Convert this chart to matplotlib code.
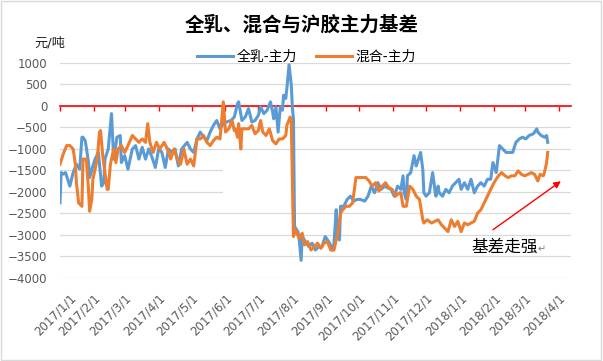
import matplotlib
matplotlib.use("Agg")
import matplotlib.pyplot as plt
import matplotlib.dates as mdates
from matplotlib.ticker import FuncFormatter, MultipleLocator
from matplotlib.transforms import ScaledTranslation
from matplotlib.patches import Rectangle
import pandas as pd

plt.rcParams['font.family'] = ['DejaVu Sans', 'Noto Sans CJK SC']

title = "全乳、混合与沪胶主力基差"
unit_label = "元/吨"
series_names = ["全乳-主力", "混合-主力"]
note_text = "基差走强"

blue_dates = [
    "2017-01-01", "2017-01-02", "2017-01-04", "2017-01-06", "2017-01-07", "2017-01-10", "2017-01-13",
    "2017-01-16", "2017-01-19", "2017-01-21", "2017-01-22", "2017-01-24", "2017-01-25", "2017-01-27",
    "2017-01-28", "2017-01-31", "2017-02-02", "2017-02-05", "2017-02-08", "2017-02-10", "2017-02-11",
    "2017-02-14", "2017-02-17", "2017-02-19", "2017-02-22", "2017-02-25", "2017-02-26", "2017-03-01",
    "2017-03-04", "2017-03-08", "2017-03-11", "2017-03-14", "2017-03-17", "2017-03-20", "2017-03-23",
    "2017-03-26", "2017-03-29", "2017-04-01", "2017-04-04", "2017-04-07", "2017-04-10", "2017-04-13",
    "2017-04-16", "2017-04-19", "2017-04-22", "2017-04-27", "2017-04-30", "2017-05-03", "2017-05-06",
    "2017-05-09", "2017-05-12", "2017-05-15", "2017-05-18", "2017-05-21", "2017-05-24", "2017-05-27",
    "2017-05-30", "2017-06-02", "2017-06-06", "2017-06-09", "2017-06-12", "2017-06-13", "2017-06-16",
    "2017-06-19", "2017-06-22", "2017-06-25", "2017-06-28", "2017-07-01", "2017-07-03", "2017-07-06",
    "2017-07-09", "2017-07-12", "2017-07-14", "2017-07-15", "2017-07-17", "2017-07-19", "2017-07-21",
    "2017-07-23", "2017-07-24", "2017-07-26", "2017-07-27", "2017-07-29", "2017-07-31", "2017-08-01",
    "2017-08-02", "2017-08-03", "2017-08-06", "2017-08-07", "2017-08-09", "2017-08-10", "2017-08-13",
    "2017-08-16", "2017-08-19", "2017-08-22", "2017-08-25", "2017-08-28", "2017-08-31", "2017-09-04",
    "2017-09-07", "2017-09-08", "2017-09-10", "2017-09-11", "2017-09-13", "2017-09-14", "2017-09-17",
    "2017-09-20", "2017-09-23", "2017-09-26", "2017-09-29", "2017-10-02", "2017-10-06", "2017-10-09",
    "2017-10-12", "2017-10-15", "2017-10-18", "2017-10-21", "2017-10-24", "2017-10-27", "2017-10-30",
    "2017-11-02", "2017-11-05", "2017-11-08", "2017-11-10", "2017-11-11", "2017-11-13", "2017-11-14",
    "2017-11-17", "2017-11-20", "2017-11-22", "2017-11-25", "2017-11-26", "2017-11-28", "2017-11-29",
    "2017-12-01", "2017-12-04", "2017-12-07", "2017-12-09", "2017-12-10", "2017-12-12", "2017-12-13",
    "2017-12-16", "2017-12-19", "2017-12-22", "2017-12-25", "2017-12-28", "2017-12-31", "2018-01-02",
    "2018-01-05", "2018-01-08", "2018-01-11", "2018-01-14", "2018-01-17", "2018-01-20", "2018-01-23",
    "2018-01-26", "2018-01-29", "2018-01-31", "2018-02-03", "2018-02-06", "2018-02-09", "2018-02-12",
    "2018-02-15", "2018-02-18", "2018-02-21", "2018-02-24", "2018-02-27", "2018-03-02", "2018-03-05",
    "2018-03-09", "2018-03-12", "2018-03-13", "2018-03-16", "2018-03-19", "2018-03-21", "2018-03-22",
]
blue_values = [
    -2260, -1555, -1590, -1555, -1630, -1870, -1555,
    -1360, -1475, -730, -730, -810, -965, -1320,
    -1670, -1400, -1240, -1080, -1870, -1790, -1240,
    -1005, -180, -1240, -730, -690, -1320, -1160,
    -1475, -1005, -925, -1240, -965, -1240, -1005,
    -1200, -1435, -1005, -1085, -1435, -1005, -1085,
    -1005, -1400, -1005, -850, -1005, -1085, -770,
    -610, -730, -810, -610, -455, -340, -535,
    -415, -375, -340, -260, 55, 95, -340,
    -260, -65, -375, -340, -220, -25, -180,
    -100, 95, -140, -300, -25, -610, -25,
    -100, 250, 175, 410, 960, 490, -25,
    -300, -2810, -2930, -3045, -3600, -3045, -3165,
    -3280, -3200, -3360, -3280, -3280, -3045, -3200,
    -3360, -3200, -2420, -2970, -3125, -2340, -2340,
    -2180, -2105, -2220, -2180, -2180, -2220, -2105,
    -1870, -2025, -1790, -1945, -1870, -1910, -1945,
    -2105, -1870, -1945, -1630, -2025, -2180, -1630,
    -1555, -1160, -1400, -1160, -1085, -1475, -2025,
    -2105, -2025, -1555, -1945, -2105, -1870, -2025,
    -2105, -1945, -2025, -1870, -1790, -1710, -1945,
    -1790, -1945, -1710, -2025, -1870, -1790, -1870,
    -1710, -1710, -1320, -1555, -925, -1005, -1085,
    -1085, -1085, -850, -770, -730, -770, -690,
    -650, -535, -610, -690, -730, -690, -850,
]

orange_dates = [
    "2017-01-01", "2017-01-04", "2017-01-07", "2017-01-10", "2017-01-13", "2017-01-15", "2017-01-16",
    "2017-01-18", "2017-01-21", "2017-01-22", "2017-01-25", "2017-01-27", "2017-01-28", "2017-01-30",
    "2017-01-31", "2017-02-04", "2017-02-06", "2017-02-07", "2017-02-09", "2017-02-11", "2017-02-13",
    "2017-02-14", "2017-02-16", "2017-02-19", "2017-02-21", "2017-02-23", "2017-02-26", "2017-03-01",
    "2017-03-04", "2017-03-08", "2017-03-11", "2017-03-14", "2017-03-17", "2017-03-20", "2017-03-22",
    "2017-03-24", "2017-03-27", "2017-03-30", "2017-04-02", "2017-04-06", "2017-04-09", "2017-04-12",
    "2017-04-15", "2017-04-18", "2017-04-21", "2017-04-24", "2017-04-27", "2017-04-30", "2017-05-03",
    "2017-05-06", "2017-05-09", "2017-05-12", "2017-05-15", "2017-05-18", "2017-05-21", "2017-05-24",
    "2017-05-27", "2017-05-30", "2017-06-01", "2017-06-04", "2017-06-07", "2017-06-09", "2017-06-10",
    "2017-06-12", "2017-06-13", "2017-06-15", "2017-06-16", "2017-06-19", "2017-06-22", "2017-06-25",
    "2017-06-28", "2017-07-01", "2017-07-03", "2017-07-05", "2017-07-08", "2017-07-11", "2017-07-14",
    "2017-07-17", "2017-07-20", "2017-07-23", "2017-07-26", "2017-07-27", "2017-07-30", "2017-07-31",
    "2017-08-02", "2017-08-04", "2017-08-07", "2017-08-10", "2017-08-12", "2017-08-15", "2017-08-18",
    "2017-08-21", "2017-08-24", "2017-08-27", "2017-08-30", "2017-09-02", "2017-09-05", "2017-09-08",
    "2017-09-10", "2017-09-11", "2017-09-14", "2017-09-16", "2017-09-19", "2017-09-22", "2017-09-25",
    "2017-09-28", "2017-10-01", "2017-10-04", "2017-10-07", "2017-10-10", "2017-10-13", "2017-10-16",
    "2017-10-19", "2017-10-22", "2017-10-25", "2017-10-28", "2017-10-31", "2017-11-03", "2017-11-07",
    "2017-11-08", "2017-11-10", "2017-11-13", "2017-11-16", "2017-11-19", "2017-11-22", "2017-11-25",
    "2017-11-26", "2017-11-28", "2017-11-29", "2017-12-02", "2017-12-06", "2017-12-09", "2017-12-12",
    "2017-12-15", "2017-12-18", "2017-12-21", "2017-12-24", "2017-12-27", "2017-12-30", "2018-01-02",
    "2018-01-05", "2018-01-08", "2018-01-11", "2018-01-14", "2018-01-17", "2018-01-20", "2018-01-23",
    "2018-01-26", "2018-01-29", "2018-02-01", "2018-02-05", "2018-02-08", "2018-02-11", "2018-02-14",
    "2018-02-17", "2018-02-20", "2018-02-23", "2018-02-26", "2018-03-01", "2018-03-04", "2018-03-07",
    "2018-03-10", "2018-03-13", "2018-03-15", "2018-03-18", "2018-03-19", "2018-03-21", "2018-03-22",
]
orange_values = [
    -1360, -1120, -925, -925, -1005, -1360, -1790,
    -2260, -2340, -1240, -1240, -1945, -2455, -2180,
    -1710, -1240, -610, -575, -1160, -1555, -1945,
    -1945, -1360, -1005, -1320, -1005, -925, -1085,
    -925, -690, -770, -850, -770, -850, -415,
    -850, -1085, -850, -1005, -850, -1005, -1240,
    -1005, -1240, -1360, -1005, -1360, -1240, -1400,
    -770, -770, -690, -850, -925, -810, -730,
    -770, 95, -610, -535, -340, -575, -535,
    -730, -415, -1005, -535, -535, -535, -455,
    -650, -575, -340, -610, -690, -535, -810,
    -885, -770, -770, -690, -455, -260, -340,
    -3045, -2890, -3085, -2970, -3240, -3165, -3360,
    -3280, -3200, -3320, -3200, -3165, -3360, -3360,
    -3125, -3045, -2500, -2420, -2340, -2340, -2260,
    -1670, -1670, -1670, -1670, -1750, -1870, -1790,
    -1985, -1870, -1790, -1910, -1945, -2105, -2025,
    -2025, -2340, -2340, -1870, -1945, -2105, -2180,
    -2340, -2655, -2730, -2655, -2730, -2690, -2655,
    -2770, -2850, -2930, -2655, -2810, -2690, -2930,
    -2730, -2770, -2730, -2690, -2500, -2420, -2260,
    -2105, -1945, -1790, -1630, -1555, -1630, -1670,
    -1630, -1630, -1515, -1595, -1630, -1595, -1555,
    -1595, -1750, -1595, -1630, -1555, -1320, -1085,
]

y_min, y_max, y_step = -4000, 1000, 500
x_start, x_end = "2017-01-01", "2018-04-12"

blue_color = "#5B9BD5"
orange_color = "#ED7D31"
red = "#FF0000"
grid_gray = "#D9D9D9"
text_gray = "#595959"

fig = plt.figure(figsize=(6.03, 3.61), dpi=100)
ax = fig.add_axes([0.0995, 0.2313, 0.847, 0.5942])

bx = pd.to_datetime(blue_dates)
ox = pd.to_datetime(orange_dates)
l1, = ax.plot(bx, blue_values, color=blue_color, lw=2.2, zorder=3, solid_joinstyle='round')
l2, = ax.plot(ox, orange_values, color=orange_color, lw=2.2, zorder=4, solid_joinstyle='round')

ax.set_xlim(pd.Timestamp(x_start), pd.Timestamp(x_end))
ax.set_ylim(y_min, y_max)
ax.yaxis.set_major_locator(MultipleLocator(y_step))
ax.set_axisbelow(True)
ax.grid(axis='y', color=grid_gray, lw=0.9)

# faint white patch present in the reference (erased watermark area)
ax.add_patch(Rectangle((mdates.date2num(pd.Timestamp("2017-05-30")), -2170),
                       mdates.date2num(pd.Timestamp("2017-10-11")) - mdates.date2num(pd.Timestamp("2017-05-30")),
                       900, facecolor='white', edgecolor='none', zorder=1))

for s in ['top', 'right', 'left']:
    ax.spines[s].set_visible(False)
ax.spines['bottom'].set_position(('data', 0))
ax.spines['bottom'].set_color(red)
ax.spines['bottom'].set_linewidth(1.2)
ax.spines['bottom'].set_zorder(2.6)
ax.xaxis.set_major_locator(mdates.MonthLocator(bymonthday=1))
ax.tick_params(axis='x', direction='out', length=3.5, width=1, color=red, labelbottom=False)
ax.tick_params(axis='y', length=0, pad=9, labelsize=8.5, labelcolor=text_gray)

sec = ax.secondary_xaxis('bottom')
sec.spines['bottom'].set_visible(False)
sec.xaxis.set_major_locator(mdates.MonthLocator(bymonthday=1))
sec.xaxis.set_major_formatter(FuncFormatter(
    lambda v, p: (lambda d: f"{d.year}/{d.month}/{d.day}")(mdates.num2date(v))))
sec.tick_params(axis='x', length=0, pad=10, labelsize=8.5, labelcolor=text_gray)
offset = ScaledTranslation(6.5 / 72, 0, fig.dpi_scale_trans)
for lbl in sec.get_xticklabels():
    lbl.set_rotation(45)
    lbl.set_ha('right')
    lbl.set_va('top')
    lbl.set_rotation_mode('anchor')
    lbl.set_transform(lbl.get_transform() + offset)

fig.text(0.5003, 0.931, title, ha='center', va='center', fontsize=14, fontweight='bold', color='black')
fig.text(0.083, 0.881, unit_label, ha='center', va='center', fontsize=9.5, color='#262626')

fig.legend([l1, l2], series_names, loc='center', bbox_to_anchor=(0.508, 0.842), ncol=2,
           frameon=False, fontsize=10, handlelength=2.6, handletextpad=0.2, columnspacing=1.4,
           borderaxespad=0, borderpad=0)

ax.annotate('', xy=(pd.Timestamp("2018-04-03"), -1757), xytext=(pd.Timestamp("2018-01-31"), -2888),
            arrowprops=dict(arrowstyle='-|>', color=red, lw=1, mutation_scale=10, shrinkA=0, shrinkB=0),
            zorder=5)
t = ax.text(pd.Timestamp("2018-01-11"), -3280, note_text, ha='left', va='center', fontsize=12, color='black')
ax.annotate('↵', xy=(1, 0.1), xycoords=t, ha='left', va='bottom', fontsize=7, color='#7F7F7F')

fig.patches.append(Rectangle((0.002, 0.003), 0.995, 0.993, transform=fig.transFigure,
                             fill=False, edgecolor=grid_gray, lw=1))

fig.savefig("out.png", dpi=100)
